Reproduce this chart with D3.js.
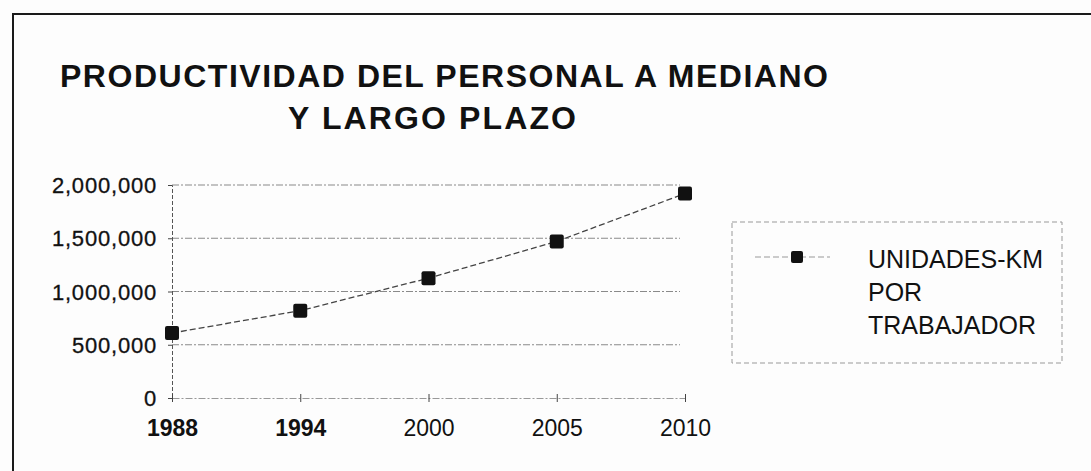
<!DOCTYPE html>
<html>
<head>
<meta charset="utf-8">
<script src="https://cdn.jsdelivr.net/npm/d3@7"></script>
<style>
  body { margin: 0; background: #fdfdfd; }
  svg { display: block; font-family: "Liberation Sans", Arial, sans-serif; }
</style>
</head>
<body>
<svg width="1091" height="471"></svg>
<script>
// data
var years = ["1988", "1994", "2000", "2005", "2010"];
var values = [610000, 820000, 1125000, 1470000, 1920000];
var yTicks = [0, 500000, 1000000, 1500000, 2000000];
var titleLines = ["PRODUCTIVIDAD DEL PERSONAL A MEDIANO", "Y LARGO PLAZO"];
var legendLines = ["UNIDADES-KM", "POR", "TRABAJADOR"];

var svg = d3.select("svg");

// frame (only top and left edges show in the scan)
svg.append("path")
    .attr("d", "M13,471 L13,14 L1091,14")
    .attr("fill", "none")
    .attr("stroke", "#1a1a1a")
    .attr("stroke-width", 2);

// title
svg.append("text")
    .attr("x", 60).attr("y", 87)
    .attr("font-size", 32).attr("font-weight", "bold")
    .attr("textLength", 768).attr("lengthAdjust", "spacing")
    .attr("fill", "#111")
    .text(titleLines[0]);
svg.append("text")
    .attr("x", 288).attr("y", 129)
    .attr("font-size", 32).attr("font-weight", "bold")
    .attr("textLength", 288).attr("lengthAdjust", "spacing")
    .attr("fill", "#111")
    .text(titleLines[1]);

var x = d3.scalePoint().domain(years).range([172, 685]);
var y = d3.scaleLinear().domain([0, 2000000]).range([398, 185]);

var g = svg.append("g");

// horizontal gridlines
g.selectAll(".grid")
    .data(yTicks.filter(function(d) { return d > 0; }))
    .enter().append("line")
    .attr("class", "grid")
    .attr("x1", x.range()[0]).attr("x2", x.range()[1] - 5)
    .attr("y1", function(d) { return y(d); })
    .attr("y2", function(d) { return y(d); })
    .attr("stroke", "#8a8a8a")
    .attr("stroke-width", 1.2)
    .attr("stroke-dasharray", "7,2,2,2");

// y axis
var yAxis = g.append("g")
    .attr("transform", "translate(172,0)")
    .call(d3.axisLeft(y).tickValues(yTicks).tickSize(4).tickPadding(11)
        .tickFormat(d3.format(",")));
yAxis.select(".domain").attr("stroke", "#555").attr("stroke-dasharray", "4,2");
yAxis.selectAll(".tick line").attr("stroke", "#444");
yAxis.selectAll("text")
    .attr("font-size", 22)
    .attr("font-family", "Liberation Sans, Arial, sans-serif")
    .attr("letter-spacing", 0.8)
    .attr("fill", "#111")
    .attr("stroke", "#111").attr("stroke-width", 0.3)
    .attr("dy", "0.35em");

// x axis
var xAxis = g.append("g")
    .attr("transform", "translate(0,398)")
    .call(d3.axisBottom(x).tickSize(0).tickPadding(22));
xAxis.select(".domain").attr("stroke", "#999").attr("stroke-dasharray", "7,2,2,2");
xAxis.selectAll("text")
    .attr("font-size", 23)
    .attr("font-family", "Liberation Sans, Arial, sans-serif")
    .attr("font-weight", function(d, i) { return i < 2 ? "bold" : "normal"; })
    .attr("fill", "#111");
xAxis.selectAll(".tick").append("line")
    .attr("y1", -4).attr("y2", 4)
    .attr("stroke", "#444");

// series line and markers
var line = d3.line()
    .x(function(d, i) { return x(years[i]); })
    .y(function(d) { return y(d); });

g.append("path")
    .datum(values)
    .attr("d", line)
    .attr("fill", "none")
    .attr("stroke", "#444")
    .attr("stroke-width", 1.3)
    .attr("stroke-dasharray", "6,3");

g.selectAll(".pt")
    .data(values)
    .enter().append("rect")
    .attr("class", "pt")
    .attr("x", function(d, i) { return x(years[i]) - 7; })
    .attr("y", function(d) { return y(d) - 7; })
    .attr("width", 14).attr("height", 14)
    .attr("rx", 2)
    .attr("fill", "#111");

// legend
var lg = svg.append("g").attr("transform", "translate(732,222)");
lg.append("rect")
    .attr("width", 330).attr("height", 141)
    .attr("fill", "none")
    .attr("stroke", "#999")
    .attr("stroke-dasharray", "5,3");
lg.append("line")
    .attr("x1", 23).attr("x2", 98)
    .attr("y1", 35).attr("y2", 35)
    .attr("stroke", "#999")
    .attr("stroke-dasharray", "6,3");
lg.append("rect")
    .attr("x", 59).attr("y", 29)
    .attr("width", 12).attr("height", 12)
    .attr("rx", 2)
    .attr("fill", "#111");
lg.selectAll(".lt")
    .data(legendLines)
    .enter().append("text")
    .attr("class", "lt")
    .attr("x", 136)
    .attr("y", function(d, i) { return 46 + i * 33; })
    .attr("font-size", 25)
    .attr("fill", "#111")
    .text(function(d) { return d; });
</script>
</body>
</html>
